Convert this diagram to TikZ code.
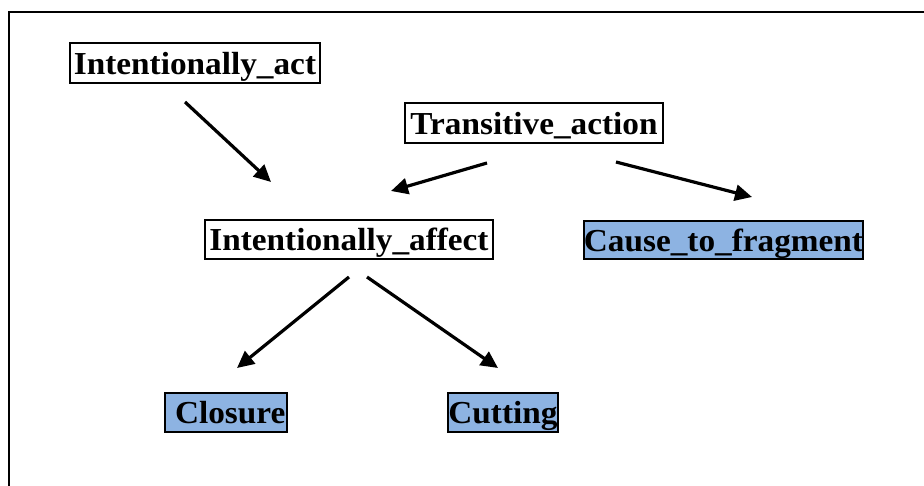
\documentclass[tikz,border=0pt]{standalone}
\usepackage{fontspec}
\setmainfont{Liberation Serif}[FakeStretch=1.04]
\usetikzlibrary{arrows.meta}
\definecolor{boxblue}{HTML}{8DB3E2}
\tikzset{
  lbl/.style={draw=black, line width=2pt, inner sep=0pt, font=\fontsize{32}{34}\selectfont\bfseries, text depth=0pt},
  plain/.style={lbl, fill=white},
  blue/.style={lbl, fill=boxblue},
  arr/.style={line width=3.2pt, -{Triangle[length=17pt,width=16pt]}}
}
\begin{document}
\begin{tikzpicture}[x=1pt,y=-1pt]
\useasboundingbox (0,0) rectangle (924,486);
\clip (0,0) rectangle (924,486);
\fill[white] (0,0) rectangle (924,486);
\draw[line width=2.8pt] (9,12) rectangle (940,500);
\node[plain, minimum width=250pt, minimum height=40pt] (ia) at (195,63) {Intentionally\_act};
\node[plain, minimum width=258pt, minimum height=40pt] (ta) at (534,123) {Transitive\_action};
\node[plain, minimum width=288pt, minimum height=39pt] (iaf) at (349,239.5) {Intentionally\_affect};
\node[blue, minimum width=279pt, minimum height=38pt] (ctf) at (723.5,240) {Cause\_to\_fragment};
\node[blue, minimum width=122pt, minimum height=39pt] (cl) at (226,412.5) {~Closure};
\node[blue, minimum width=110pt, minimum height=39pt] (cu) at (503,412.5) {Cutting};
\coordinate (a1s) at (185,102); \coordinate (a1e) at (271,182);
\coordinate (a2s) at (487,163); \coordinate (a2e) at (391,191);
\coordinate (a3s) at (616,162); \coordinate (a3e) at (752,197);
\coordinate (a4s) at (349,277); \coordinate (a4e) at (237,368);
\coordinate (a5s) at (367,277); \coordinate (a5e) at (498,368);
\draw[arr] (a1s) -- (a1e);
\draw[arr] (a2s) -- (a2e);
\draw[arr] (a3s) -- (a3e);
\draw[arr] (a4s) -- (a4e);
\draw[arr] (a5s) -- (a5e);
\end{tikzpicture}
\end{document}
